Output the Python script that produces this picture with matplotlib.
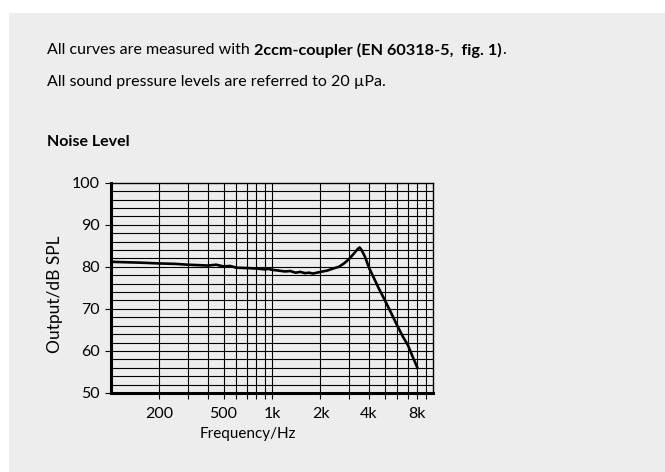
import matplotlib
matplotlib.use("Agg")
import matplotlib.pyplot as plt
from matplotlib.patches import Rectangle
from matplotlib.ticker import FixedLocator, NullFormatter, NullLocator

plt.rcParams['font.family'] = ['Lato', 'DejaVu Sans']

# Data
freq_hz = [100, 120, 150, 200, 250, 300, 350, 400, 450, 500, 550, 600, 700, 800, 900, 950,
           1000, 1100, 1200, 1300, 1400, 1500, 1600, 1700, 1800, 1900, 2000, 2200, 2400,
           2600, 2800, 3000, 3200, 3400, 3500, 3600, 3800, 4000, 4300, 4600, 5000, 5500,
           6000, 6500, 7000, 7500, 8000]
level_db = [81.2, 81.1, 81.0, 80.8, 80.7, 80.5, 80.4, 80.3, 80.5, 80.1, 80.2, 79.8, 79.7,
            79.6, 79.4, 79.5, 79.3, 79.1, 78.9, 79.0, 78.6, 78.8, 78.5, 78.6, 78.4, 78.6,
            78.8, 79.1, 79.6, 80.0, 80.8, 81.8, 83.0, 84.2, 84.6, 84.0, 82.2, 79.8, 77.3,
            74.9, 72.2, 69.0, 66.0, 63.4, 61.3, 58.5, 56.0]

x_ticks = [200, 500, 1000, 2000, 4000, 8000]
x_tick_labels = ['200', '500', '1k', '2k', '4k', '8k']
y_ticks = [50, 60, 70, 80, 90, 100]
x_grid = [200, 300, 400, 500, 600, 700, 800, 900, 1000, 2000, 3000, 4000, 5000, 6000,
          7000, 8000, 9000]
y_grid = list(range(52, 100, 2))

W, H = 665, 472
fig = plt.figure(figsize=(W / 100, H / 100), dpi=100)
fig.patch.set_facecolor('white')
bg = '#ecedec'
fig.patches.append(Rectangle((9 / W, 0), 1, 1 - 13 / H, transform=fig.transFigure,
                             facecolor=bg, edgecolor='none', zorder=-10))

ax = fig.add_axes([111 / W, 1 - 393 / H, (433 - 111) / W, (393 - 182.7) / H])
ax.set_facecolor(bg)
ax.set_xscale('log')
ax.set_xlim(100, 10000)
ax.set_ylim(50, 100)

for xv in x_grid:
    ax.axvline(xv, color='black', lw=0.8, zorder=1)
for yv in y_grid:
    ax.axhline(yv, color='black', lw=0.8, zorder=1)

ax.plot(freq_hz, level_db, color='black', lw=1.9, zorder=3, solid_joinstyle='round')

ax.xaxis.set_major_locator(FixedLocator(x_ticks))
ax.set_xticklabels(x_tick_labels)
ax.xaxis.set_minor_locator(FixedLocator([v for v in x_grid if v not in x_ticks]))
ax.xaxis.set_minor_formatter(NullFormatter())
ax.set_yticks(y_ticks)
ax.set_yticklabels([str(v) for v in y_ticks])
ax.yaxis.set_minor_locator(NullLocator())

ax.tick_params(axis='x', which='both', direction='out', length=4, width=0.8, pad=6,
               labelsize=11.5, colors='black')
ax.tick_params(axis='y', which='both', direction='out', length=4, width=0.8, pad=4,
               labelsize=11.5, colors='black')

for side in ['left', 'bottom']:
    ax.spines[side].set_linewidth(2.2)
for side in ['top', 'right']:
    ax.spines[side].set_linewidth(1.0)

fig.text(248 / W, 1 - 434 / H, 'Frequency/Hz', ha='center', va='center', fontsize=11)
fig.text(55 / W, 1 - 294 / H, 'Output/dB SPL', ha='center', va='center',
         rotation=90, fontsize=12.5)

# header text
fs = 11.5
t1 = fig.text(47 / W, 1 - 50 / H, 'All curves are measured with ', ha='left',
              va='center', fontsize=fs)
fig.canvas.draw()
r = fig.canvas.get_renderer()
bb = t1.get_window_extent(r)
t2 = fig.text(bb.x1 / W, 1 - 50 / H, '2ccm-coupler (EN 60318-5,  fig. 1)', ha='left',
              va='center', fontsize=fs + 0.2, fontweight='bold')
bb2 = t2.get_window_extent(r)
fig.text(bb2.x1 / W, 1 - 50 / H, '.', ha='left', va='center', fontsize=fs)
fig.text(47 / W, 1 - 82 / H, 'All sound pressure levels are referred to 20 µPa.',
         ha='left', va='center', fontsize=fs)
fig.text(47 / W, 1 - 142 / H, 'Noise Level', ha='left', va='center', fontsize=fs,
         fontweight='bold')

fig.savefig('out.png', dpi=100, facecolor=fig.get_facecolor())
